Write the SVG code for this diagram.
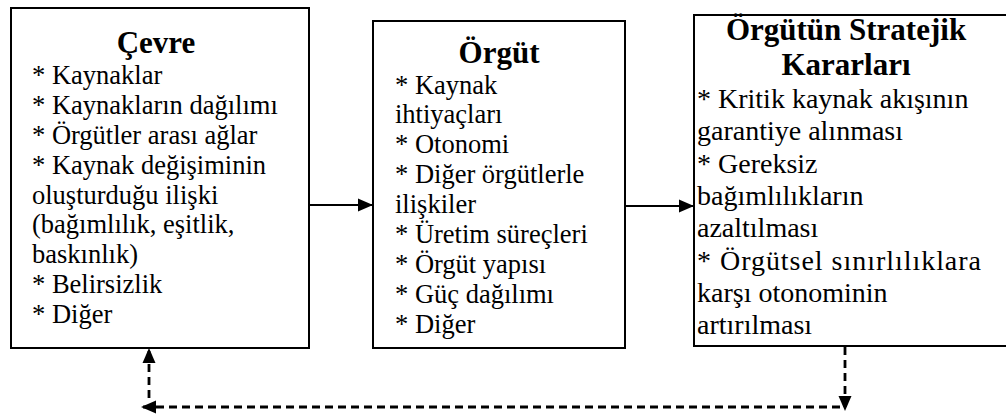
<svg xmlns="http://www.w3.org/2000/svg" width="1006" height="414" viewBox="0 0 1006 414">
<style>
.box{fill:#fff;stroke:#000;stroke-width:2}
text{font-family:'Liberation Serif','DejaVu Serif',serif;fill:#000}
.t{font-weight:bold;font-size:31px;text-anchor:middle}
.b{font-size:26.5px}
.b3{font-size:28px}
.solid{stroke:#000;stroke-width:2.2;fill:none}
.dash{stroke:#000;stroke-width:2.8;fill:none;stroke-dasharray:8 5}
</style>
<defs>
<marker id="ah" markerUnits="userSpaceOnUse" markerWidth="16" markerHeight="16" viewBox="0 0 16 16" refX="15" refY="8" orient="auto">
<path d="M0,1.5 L15,8 L0,14.5 Z" fill="#000"/>
</marker>
</defs>
<rect width="1006" height="414" fill="#fff"/>
<g id="cevre">
<rect class="box" x="11" y="8" width="298" height="340"/>
<text class="t" x="156" y="53">Çevre</text>
<text class="b" x="32" y="84">* Kaynaklar</text>
<text class="b" x="32" y="113.9">* Kaynakların dağılımı</text>
<text class="b" x="32" y="143.75">* Örgütler arası ağlar</text>
<text class="b" x="32" y="173.6">* Kaynak değişiminin</text>
<text class="b" x="32" y="203.5">oluşturduğu ilişki</text>
<text class="b" x="32" y="233.4">(bağımlılık, eşitlik,</text>
<text class="b" x="32" y="263.25">baskınlık)</text>
<text class="b" x="32" y="293.1">* Belirsizlik</text>
<text class="b" x="32" y="323">* Diğer</text>
</g>
<g id="orgut">
<rect class="box" x="373" y="21" width="252" height="327"/>
<text class="t" x="499" y="63">Örgüt</text>
<text class="b" x="395" y="93.5">* Kaynak</text>
<text class="b" x="395" y="123.4">ihtiyaçları</text>
<text class="b" x="395" y="153.3">* Otonomi</text>
<text class="b" x="395" y="183.2">* Diğer örgütlerle</text>
<text class="b" x="395" y="213.1">ilişkiler</text>
<text class="b" x="395" y="243">* Üretim süreçleri</text>
<text class="b" x="395" y="272.9">* Örgüt yapısı</text>
<text class="b" x="395" y="302.8">* Güç dağılımı</text>
<text class="b" x="395" y="332.7">* Diğer</text>
</g>
<g id="kararlar">
<rect class="box" x="694" y="15" width="330" height="331"/>
<text class="t" x="846" y="40">Örgütün Stratejik</text>
<text class="t" x="846" y="75">Kararları</text>
<text class="b3" x="697" y="108">* Kritik kaynak akışının</text>
<text class="b3" x="697" y="140.3">garantiye alınması</text>
<text class="b3" x="697" y="172.6">* Gereksiz</text>
<text class="b3" x="697" y="204.9">bağımlılıkların</text>
<text class="b3" x="697" y="237.2">azaltılması</text>
<text class="b3" x="697" y="269.5" textLength="284" lengthAdjust="spacing">* Örgütsel sınırlılıklara</text>
<text class="b3" x="697" y="301.8">karşı otonominin</text>
<text class="b3" x="697" y="334.1">artırılması</text>
</g>
<g id="connectors">
<line class="solid" x1="310" y1="205" x2="373" y2="205" marker-end="url(#ah)"/>
<line class="solid" x1="626" y1="206" x2="694" y2="206" marker-end="url(#ah)"/>
<line class="dash" x1="845" y1="347" x2="845" y2="411" marker-end="url(#ah)"/>
<line class="dash" x1="840" y1="407" x2="141" y2="407" marker-end="url(#ah)"/>
<line class="dash" x1="149" y1="398" x2="149" y2="348" marker-end="url(#ah)"/>
</g>
</svg>
